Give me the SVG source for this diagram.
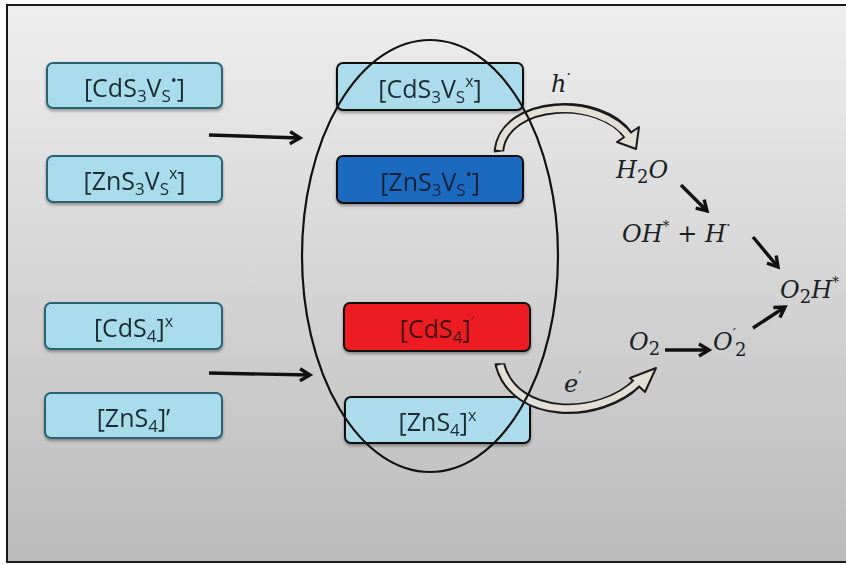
<svg xmlns="http://www.w3.org/2000/svg" width="846" height="565" viewBox="0 0 846 565">
  <style>
    .lb { fill: #a9dceb; stroke: #2a6272; stroke-width: 2; }
    .mb { stroke: #111; stroke-width: 2; }
    .bt { font-family: "Open Sans", "Noto Sans", sans-serif; font-size: 25px; fill: #1c2b33; text-anchor: middle; }
    .sb { font-size: 17px; }
    .sp { font-size: 16px; }
    .m { font-family: "DejaVu Serif", "Liberation Serif", serif; font-style: italic; font-size: 24px; fill: #1a1f26; }
    .mn { font-style: normal; font-size: 18px; }
    .ms { font-style: normal; font-size: 14px; }
    .arrow { stroke: #111; stroke-width: 3.4; fill: none; marker-end: url(#head); }
    .band-out { stroke: #1a1a1a; stroke-width: 10.5; fill: none; }
    .band-in { stroke: #e2dfd4; stroke-width: 6.5; fill: none; }
    .bhead { fill: #e2dfd4; stroke: #1a1a1a; stroke-width: 2; stroke-linejoin: round; }
  </style>
  <defs>
    <linearGradient id="bg" x1="0" y1="0" x2="0" y2="1">
      <stop offset="0" stop-color="#eeeeee"/>
      <stop offset="1" stop-color="#bbbbbb"/>
    </linearGradient>
    <filter id="shadow" x="-10%" y="-20%" width="120%" height="150%">
      <feDropShadow dx="0" dy="2" stdDeviation="1.5" flood-color="#000" flood-opacity="0.35"/>
    </filter>
    <marker id="head" markerUnits="userSpaceOnUse" markerWidth="18" markerHeight="18" viewBox="0 0 18 18" refX="13" refY="9" orient="auto">
      <path d="M3,3 L13,9 L3,15" fill="none" stroke="#111" stroke-width="3.4" stroke-linejoin="miter"/>
    </marker>
  </defs>

  <!-- framed panel with vertical shading -->
  <rect x="0" y="0" width="846" height="565" fill="#ffffff"/>
  <rect x="7" y="5" width="850" height="557" fill="url(#bg)" stroke="#1a1a1a" stroke-width="2"/>

  <!-- left column: defect species before exchange -->
  <g id="cds3vs-dot" filter="url(#shadow)">
    <rect class="lb" x="47" y="63" width="175" height="45" rx="6"/>
    <text class="bt" x="134.5" y="97">[CdS<tspan class="sb" dy="5">3</tspan><tspan dy="-5">V</tspan><tspan class="sb" dy="5">S</tspan><tspan class="sp" dy="-16">•</tspan><tspan dy="11">]</tspan></text>
  </g>
  <g id="zns3vs-x" filter="url(#shadow)">
    <rect class="lb" x="47" y="156" width="175" height="46" rx="6"/>
    <text class="bt" x="134.5" y="190">[ZnS<tspan class="sb" dy="5">3</tspan><tspan dy="-5">V</tspan><tspan class="sb" dy="5">S</tspan><tspan class="sp" dy="-16">x</tspan><tspan dy="11">]</tspan></text>
  </g>
  <g id="cds4-x" filter="url(#shadow)">
    <rect class="lb" x="45" y="303" width="177" height="46" rx="6"/>
    <text class="bt" x="133.5" y="337">[CdS<tspan class="sb" dy="5">4</tspan><tspan dy="-5">]</tspan><tspan class="sp" dy="-10">x</tspan></text>
  </g>
  <g id="zns4-prime" filter="url(#shadow)">
    <rect class="lb" x="45" y="393" width="177" height="45" rx="6"/>
    <text class="bt" x="133.5" y="427">[ZnS<tspan class="sb" dy="5">4</tspan><tspan dy="-5">]’</tspan></text>
  </g>

  <!-- middle column: species after exchange -->
  <g id="cds3vs-x" filter="url(#shadow)">
    <rect class="mb" x="337" y="63" width="186" height="47" rx="6" fill="#acdcec"/>
    <text class="bt" x="430" y="98">[CdS<tspan class="sb" dy="5">3</tspan><tspan dy="-5">V</tspan><tspan class="sb" dy="5">S</tspan><tspan class="sp" dy="-16">x</tspan><tspan dy="11">]</tspan></text>
  </g>
  <g id="zns3vs-dot" filter="url(#shadow)">
    <rect class="mb" x="337" y="156" width="186" height="47" rx="6" fill="#1e6bbf"/>
    <text class="bt" x="430" y="191" style="fill:#0f2236">[ZnS<tspan class="sb" dy="5">3</tspan><tspan dy="-5">V</tspan><tspan class="sb" dy="5">S</tspan><tspan class="sp" dy="-16">•</tspan><tspan dy="11">]</tspan></text>
  </g>
  <g id="cds4-prime" filter="url(#shadow)">
    <rect class="mb" x="344" y="303" width="186" height="48" rx="6" fill="#ed1c24"/>
    <text class="bt" x="437" y="338" style="fill:#3a0c0c">[CdS<tspan class="sb" dy="5">4</tspan><tspan dy="-5">]</tspan><tspan class="sp" dy="-10" style="fill:#7a2a2a">′</tspan></text>
  </g>
  <g id="zns4-x" filter="url(#shadow)">
    <rect class="mb" x="345" y="397" width="185" height="46" rx="6" fill="#acdcec"/>
    <text class="bt" x="437.5" y="431">[ZnS<tspan class="sb" dy="5">4</tspan><tspan dy="-5">]</tspan><tspan class="sp" dy="-10">x</tspan></text>
  </g>

  <!-- reaction species -->
  <g id="h-hole"><text class="m" x="551" y="92">h<tspan class="ms" dy="-13">·</tspan></text></g>
  <g id="h2o"><text class="m" x="616" y="178">H<tspan class="mn" dy="5">2</tspan><tspan dy="-5">O</tspan></text></g>
  <g id="oh-h"><text class="m" x="622" y="242">OH<tspan class="ms" dy="-11">*</tspan><tspan dy="11" style="font-style:normal"> + </tspan>H<tspan class="ms" dy="-12">·</tspan></text></g>
  <g id="o2h"><text class="m" x="780" y="298">O<tspan class="mn" dy="5">2</tspan><tspan dy="-5">H</tspan><tspan class="ms" dy="-11">*</tspan></text></g>
  <g id="o2"><text class="m" x="629" y="350">O<tspan class="mn" dy="5">2</tspan></text></g>
  <g id="o2-prime"><text class="m" x="713" y="350">O<tspan class="ms" dy="-11">′</tspan><tspan class="mn" dx="-1" dy="17">2</tspan></text></g>
  <g id="e-electron"><text class="m" x="564" y="392">e<tspan class="ms" dy="-10">′</tspan></text></g>

  <!-- connectors -->
  <g id="connectors">
    <line class="arrow" x1="209" y1="135" x2="300" y2="138"/>
    <line class="arrow" x1="209" y1="373" x2="310" y2="375"/>
    <line class="arrow" x1="681" y1="185" x2="707" y2="211"/>
    <line class="arrow" x1="753" y1="237" x2="778" y2="267"/>
    <line class="arrow" x1="665" y1="350" x2="709" y2="350"/>
    <line class="arrow" x1="753" y1="328" x2="785" y2="307"/>

    <!-- hole transfer: hollow curved arrow to water -->
    <path class="band-out" d="M499.2,151.8 L499,150 C505,100 600,95 628,135"/>
    <polygon class="bhead" points="617,142 639,127 636,149"/>
    <path class="band-in" d="M499,150 C505,100 600,95 630,138"/>

    <!-- electron transfer: hollow curved arrow to oxygen -->
    <path class="band-out" d="M500,363.2 L500,365 C515,420 600,420 637,383"/>
    <polygon class="bhead" points="630,378 645,392 656,368"/>
    <path class="band-in" d="M500,365 C515,420 600,420 639,381"/>

    <!-- grouping ellipse around exchanged species -->
    <ellipse cx="430" cy="256" rx="128" ry="216" fill="none" stroke="#111" stroke-width="2.2"/>
  </g>
</svg>
